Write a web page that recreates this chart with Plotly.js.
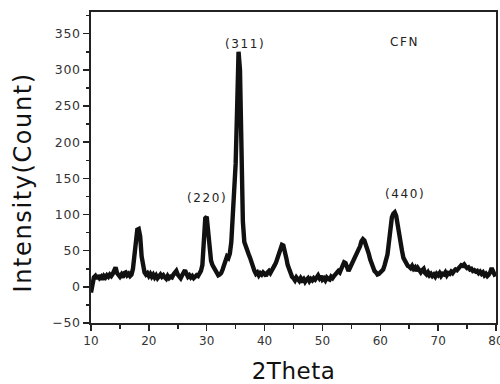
<!DOCTYPE html>
<html>
<head>
<meta charset="utf-8">
<script src="https://cdn.plot.ly/plotly-3.0.1.min.js"></script>
<style>
  html, body { margin: 0; padding: 0; background: #fff; }
  #chart { width: 500px; height: 384px; }
  .xtitle { letter-spacing: 0.5px; }
  .ytick text { letter-spacing: 0.6px; }
  .annotation-text { letter-spacing: 1.6px; }
</style>
</head>
<body>
<div id="chart"></div>
<script>
// 2Theta sampling: start and step (degrees)
const twoThetaStart = 10;
const twoThetaStep = 0.25;

// Intensity (counts), 10.00 .. 80.00 deg in 0.25 deg steps
const intensity10to15 = [-8, 6, 13, 15, 11, 16, 12, 14, 10, 15, 13, 16, 14, 17, 15, 18, 24, 27, 19, 16];
const intensity15to20 = [14, 17, 13, 19, 20, 16, 18, 15, 17, 25, 45, 72, 79, 80, 70, 42, 26, 20, 17, 19];
const intensity20to25 = [15, 18, 14, 17, 13, 16, 12, 15, 17, 14, 16, 13, 11, 15, 12, 14, 13, 17, 20, 22];
const intensity25to30 = [17, 14, 12, 16, 19, 23, 18, 14, 16, 13, 15, 12, 14, 16, 15, 18, 22, 30, 60, 95];
const intensity30to35 = [97, 75, 50, 36, 30, 26, 22, 18, 16, 17, 19, 24, 30, 38, 42, 40, 46, 62, 95, 135];
const intensity35to40 = [170, 245, 325, 300, 165, 90, 62, 55, 52, 45, 40, 33, 28, 22, 18, 20, 16, 19, 17, 20];
const intensity40to45 = [18, 15, 20, 22, 19, 24, 26, 30, 34, 40, 47, 54, 58, 57, 50, 40, 30, 24, 18, 14];
const intensity45to50 = [12, 9, 13, 10, 8, 12, 9, 11, 7, 10, 12, 8, 11, 9, 12, 10, 13, 16, 12, 15];
const intensity50to55 = [10, 12, 9, 13, 11, 10, 14, 12, 15, 17, 19, 22, 20, 24, 28, 34, 33, 26, 22, 26];
const intensity55to60 = [30, 34, 38, 42, 46, 52, 56, 63, 66, 64, 58, 55, 46, 38, 32, 26, 22, 20, 17, 18];
const intensity60to65 = [20, 22, 24, 30, 36, 45, 62, 82, 96, 101, 103, 98, 85, 70, 56, 50, 40, 35, 31, 29];
const intensity65to70 = [28, 26, 29, 25, 27, 22, 26, 24, 20, 23, 25, 19, 17, 20, 16, 18, 15, 17, 14, 18];
const intensity70to75 = [16, 19, 15, 18, 17, 20, 16, 19, 18, 21, 19, 22, 24, 23, 26, 28, 30, 29, 31, 28];
const intensity75to80 = [26, 27, 24, 25, 22, 23, 21, 22, 19, 21, 18, 20, 16, 18, 15, 17, 20, 26, 22, 17, 18];

// Peak labels
const peakLabels = ["(220)", "(311)", "(440)", "CFN"];
const peakLabelX = [29.98, 36.7, 64.27, 64.18];
const peakLabelY = [123, 336, 129, 338];

// Axis ticks and titles
const xTickValues = [10, 20, 30, 40, 50, 60, 70, 80];
const yTickValues = [-50, 0, 50, 100, 150, 200, 250, 300, 350];
const xTitle = '2Theta';
const yTitle = 'Intensity(Count)';

const intensity = [].concat(
  intensity10to15, intensity15to20, intensity20to25, intensity25to30,
  intensity30to35, intensity35to40, intensity40to45, intensity45to50,
  intensity50to55, intensity55to60, intensity60to65, intensity65to70,
  intensity70to75, intensity75to80
);

const trace = {
  type: 'scatter',
  mode: 'lines',
  x0: twoThetaStart,
  dx: twoThetaStep,
  y: intensity,
  line: { color: '#111', width: 4.4, shape: 'linear' },
  hoverinfo: 'skip'
};

const annotations = peakLabels.map((t, i) => ({
  text: t, x: peakLabelX[i], y: peakLabelY[i], xref: 'x', yref: 'y',
  showarrow: false, xanchor: 'center', yanchor: 'middle',
  font: { family: 'DejaVu Sans, sans-serif', size: 12, color: '#222' }
}));
// y-axis title, placed like the reference (slightly below the plot centre)
annotations.push({
  text: yTitle, xref: 'paper', yref: 'paper', x: -0.168, y: 0.452,
  xanchor: 'center', yanchor: 'middle', textangle: -90, showarrow: false,
  font: { family: 'DejaVu Sans, sans-serif', size: 24, color: '#111' }
});

const axisCommon = {
  showgrid: false, zeroline: false,
  showline: true, linecolor: '#222', linewidth: 2, mirror: true,
  ticks: 'outside', ticklen: 6, tickwidth: 1.5, tickcolor: '#222',
  tickfont: { family: 'DejaVu Sans, sans-serif', size: 12, color: '#333' }
};

const layout = {
  width: 500, height: 384,
  margin: { l: 91, r: 4, t: 12, b: 61 },
  paper_bgcolor: '#fff', plot_bgcolor: '#fff',
  showlegend: false,
  xaxis: Object.assign({}, axisCommon, {
    range: [10, 80], tickmode: 'array', tickvals: xTickValues,
    ticklabeloverflow: 'allow',
    minor: { dtick: 5, ticks: 'outside', ticklen: 3.5, tickwidth: 1.5, tickcolor: '#222' },
    title: { text: xTitle, font: { family: 'DejaVu Sans, sans-serif', size: 23, color: '#111' }, standoff: 16 }
  }),
  yaxis: Object.assign({}, axisCommon, {
    range: [-50, 380], tickmode: 'array', tickvals: yTickValues,
    tickfont: { family: 'DejaVu Sans, sans-serif', size: 12.5, color: '#333' },
    minor: { dtick: 25, tick0: 0, ticks: 'outside', ticklen: 3.5, tickwidth: 1.5, tickcolor: '#222' }
  }),
  annotations: annotations
};

Plotly.newPlot('chart', [trace], layout, { displayModeBar: false, staticPlot: true });
</script>
</body>
</html>
